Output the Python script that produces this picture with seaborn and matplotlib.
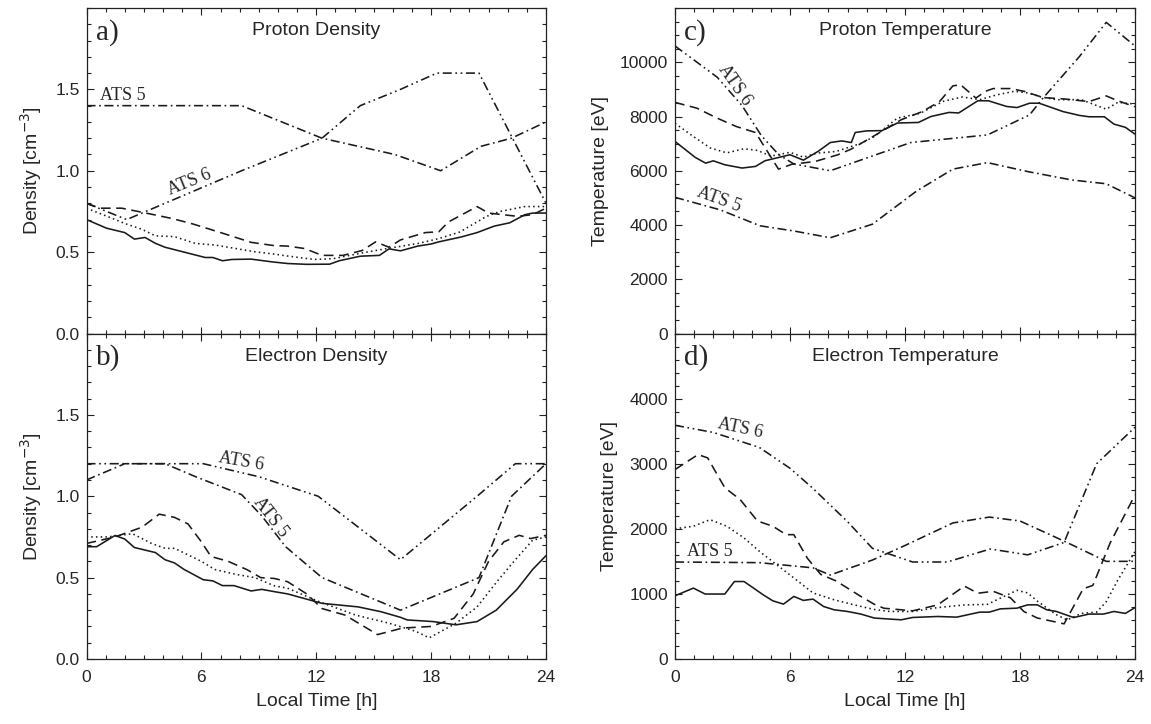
import numpy as np
import pandas as pd
import matplotlib
matplotlib.use("Agg")
import matplotlib.pyplot as plt
from matplotlib.ticker import MultipleLocator, FormatStrFormatter, FixedLocator
import seaborn as sns

# ---------------- data ----------------
hours_ticks = [0, 6, 12, 18, 24]

# a) Proton density
a_solid_x = [0, 1.05, 2.0, 2.5, 3.06, 3.6, 4.1, 5.1, 6.2, 6.6, 7.1, 7.6, 8.6, 9.7, 10.5, 11.5, 12.7, 13.2, 14.3, 15.3, 15.8, 16.4, 17.3, 18.0, 18.4, 19.6, 20.4, 21.3, 22.1, 22.9, 23.3, 24]
a_solid_y = [0.70, 0.647, 0.62, 0.58, 0.59, 0.554, 0.53, 0.50, 0.467, 0.467, 0.447, 0.455, 0.457, 0.44, 0.43, 0.425, 0.426, 0.447, 0.475, 0.48, 0.52, 0.508, 0.537, 0.55, 0.563, 0.594, 0.62, 0.66, 0.68, 0.73, 0.74, 0.74]
a_dash_x = [0, 0.7, 1.84, 2.9, 4.45, 5.5, 6.9, 8.6, 9.8, 10.5, 11.4, 12.3, 13.4, 14.4, 15.1, 15.8, 16.4, 17.7, 18.4, 18.9, 20.4, 21.0, 22.5, 23.3, 24]
a_dash_y = [0.80, 0.77, 0.77, 0.745, 0.707, 0.675, 0.624, 0.56, 0.54, 0.537, 0.522, 0.48, 0.48, 0.51, 0.563, 0.53, 0.575, 0.62, 0.625, 0.685, 0.78, 0.74, 0.72, 0.73, 0.77]
a_dot_x = [0, 1.14, 2.0, 2.9, 3.6, 4.6, 5.7, 6.7, 7.8, 8.8, 9.8, 10.5, 11.9, 12.9, 14.4, 15.6, 17.3, 18.4, 19.5, 20.9, 21.6, 22.9, 24]
a_dot_y = [0.77, 0.717, 0.676, 0.64, 0.60, 0.595, 0.553, 0.544, 0.522, 0.502, 0.488, 0.476, 0.455, 0.46, 0.495, 0.52, 0.553, 0.583, 0.624, 0.72, 0.75, 0.78, 0.78]
a_ats5_x = [0, 8.1, 12.3, 16.1, 18.5, 20.6, 22.2, 24]
a_ats5_y = [1.40, 1.40, 1.20, 1.10, 1.00, 1.15, 1.20, 1.30]
a_ats6_x = [0, 2.1, 8.1, 12.3, 14.3, 16.4, 18.3, 20.5, 24]
a_ats6_y = [0.80, 0.70, 1.00, 1.20, 1.40, 1.50, 1.60, 1.60, 0.80]

# b) Electron density
b_solid_x = [0, 0.53, 1.49, 2.0, 2.5, 3.6, 4.1, 4.6, 5.1, 6.1, 6.6, 7.1, 7.7, 8.6, 9.15, 9.8, 10.5, 12.3, 14.2, 15.4, 16.4, 16.75, 18.1, 19.3, 20.4, 21.4, 22.5, 23.3, 24]
b_solid_y = [0.69, 0.69, 0.759, 0.737, 0.685, 0.654, 0.61, 0.59, 0.55, 0.487, 0.48, 0.451, 0.451, 0.418, 0.428, 0.414, 0.40, 0.342, 0.32, 0.29, 0.256, 0.24, 0.23, 0.21, 0.23, 0.30, 0.43, 0.55, 0.635]
b_dash_x = [0, 1.49, 2.9, 3.8, 4.6, 5.3, 6.0, 6.5, 7.4, 8.4, 9.1, 9.8, 10.5, 11.5, 12.3, 13.5, 15.2, 16.5, 18.0, 19.2, 20.2, 21.0, 21.8, 22.6, 23.2, 24]
b_dash_y = [0.71, 0.75, 0.81, 0.89, 0.87, 0.83, 0.72, 0.63, 0.60, 0.548, 0.50, 0.495, 0.475, 0.40, 0.31, 0.27, 0.15, 0.19, 0.20, 0.25, 0.40, 0.60, 0.72, 0.76, 0.74, 0.76]
b_dot_x = [0, 1.1, 2.4, 3.4, 4.1, 4.6, 5.3, 6.0, 6.7, 7.8, 8.8, 9.8, 10.5, 12.1, 14.05, 15.8, 17.2, 17.9, 19.3, 20.4, 21.4, 22.4, 23.3, 24]
b_dot_y = [0.75, 0.75, 0.77, 0.71, 0.68, 0.68, 0.64, 0.60, 0.55, 0.52, 0.50, 0.45, 0.435, 0.355, 0.27, 0.22, 0.17, 0.13, 0.22, 0.32, 0.47, 0.61, 0.73, 0.75]
b_ats5_x = [0, 2.0, 4.1, 5.7, 8.1, 9.15, 10.4, 12.3, 16.4, 20.5, 22.2, 24]
b_ats5_y = [1.10, 1.20, 1.20, 1.12, 1.01, 0.88, 0.69, 0.50, 0.30, 0.50, 1.00, 1.20]
b_ats6_x = [0, 6.1, 9.0, 12.1, 16.4, 20.4, 22.4, 24]
b_ats6_y = [1.20, 1.20, 1.12, 1.00, 0.61, 1.00, 1.20, 1.20]

# c) Proton temperature
c_solid_x = [0, 1.06, 1.6, 2.0, 2.6, 3.5, 4.2, 4.7, 6.0, 6.7, 7.5, 8.1, 8.7, 9.2, 9.4, 10.0, 10.8, 11.6, 12.7, 13.35, 14.3, 14.8, 15.8, 16.35, 17.3, 17.85, 18.5, 19.0, 20.25, 21.1, 21.6, 22.4, 22.9, 23.5, 24]
c_solid_y = [7080, 6490, 6280, 6366, 6220, 6100, 6160, 6370, 6590, 6390, 6730, 7040, 7100, 7040, 7410, 7470, 7480, 7760, 7780, 8000, 8150, 8130, 8580, 8580, 8370, 8330, 8490, 8490, 8180, 8040, 7990, 7990, 7720, 7600, 7350]
c_dash_x = [0, 1.13, 2.2, 3.2, 4.2, 5.4, 6.1, 7.3, 8.5, 9.2, 10.3, 11.8, 12.9, 13.8, 14.5, 14.9, 15.7, 16.2, 16.6, 17.5, 18.2, 19.2, 20.4, 21.6, 22.5, 23.1, 24]
c_dash_y = [8520, 8310, 7940, 7630, 7410, 6060, 6240, 6340, 6590, 6800, 7250, 7880, 8180, 8550, 9130, 9170, 8680, 8930, 9030, 9030, 8930, 8700, 8640, 8550, 8760, 8580, 8360]
c_dot_x = [0, 0.96, 1.84, 2.7, 3.6, 4.3, 5.0, 6.0, 6.7, 7.4, 8.4, 9.7, 10.4, 11.6, 12.8, 14.0, 15.0, 15.9, 16.8, 17.7, 18.4, 19.1, 19.9, 21.2, 22.5, 23.1, 24]
c_dot_y = [7750, 7260, 6840, 6660, 6810, 6750, 6540, 6680, 6500, 6650, 6710, 7010, 7260, 7940, 8120, 8560, 8720, 8620, 8800, 8930, 8870, 8720, 8620, 8620, 8270, 8520, 8460]
c_ats5_x = [0, 2.35, 4.44, 6.2, 8.1, 10.3, 12.6, 14.5, 16.3, 18.4, 20.7, 22.5, 24]
c_ats5_y = [5020, 4560, 3970, 3780, 3530, 4030, 5250, 6060, 6300, 5970, 5660, 5520, 5000]
c_ats6_x = [0, 2.2, 3.5, 4.5, 5.4, 6.2, 8.1, 10.2, 12.3, 16.3, 18.5, 19.2, 21.1, 22.5, 24]
c_ats6_y = [10600, 9450, 8400, 7300, 6600, 6250, 6000, 6520, 7040, 7320, 8060, 8680, 10210, 11470, 10600]

# d) Electron temperature
d_solid_x = [0, 0.96, 1.57, 2.6, 3.1, 3.6, 4.1, 4.6, 5.1, 5.66, 6.2, 6.7, 7.2, 7.75, 8.3, 9.0, 9.7, 10.4, 11.8, 12.4, 13.7, 14.7, 15.9, 16.4, 16.97, 17.84, 18.4, 18.9, 19.4, 19.9, 20.8, 21.6, 22.35, 22.9, 23.5, 24]
d_solid_y = [971, 1089, 998, 998, 1190, 1190, 1089, 986, 894, 843, 961, 900, 920, 807, 756, 730, 690, 629, 602, 638, 653, 643, 720, 720, 770, 781, 832, 832, 755, 730, 637, 690, 690, 730, 700, 790]
d_dash_x = [0, 1.2, 1.7, 2.6, 3.4, 4.3, 5.1, 5.8, 6.2, 6.9, 7.6, 8.4, 9.7, 10.4, 10.9, 12.4, 13.7, 15.1, 15.8, 16.6, 17.5, 18.2, 18.9, 20.3, 21.3, 21.8, 22.7, 24]
d_dash_y = [2910, 3140, 3090, 2630, 2450, 2120, 2040, 1910, 1910, 1550, 1300, 1200, 960, 840, 780, 740, 830, 1120, 1010, 1040, 940, 730, 630, 540, 1080, 1130, 1780, 2520]
d_dot_x = [0, 0.96, 1.83, 2.7, 3.6, 4.4, 5.3, 6.2, 7.2, 8.3, 9.3, 10.4, 11.2, 12.4, 13.7, 15.1, 16.3, 16.8, 17.84, 18.4, 18.9, 19.9, 20.45, 21.2, 22.0, 22.5, 23.1, 24]
d_dot_y = [2000, 2040, 2140, 2040, 1860, 1655, 1450, 1245, 1015, 910, 835, 760, 730, 730, 790, 830, 840, 910, 1055, 1015, 890, 680, 600, 700, 720, 880, 1210, 1650]
d_ats5_x = [0, 4.4, 7.2, 8.1, 10.3, 11.9, 14.5, 16.4, 18.0, 20.45, 22.5, 24]
d_ats5_y = [1490, 1480, 1400, 1290, 1520, 1730, 2090, 2180, 2120, 1790, 1500, 1500]
d_ats6_x = [0, 2.0, 4.4, 6.0, 7.2, 9.0, 10.3, 12.4, 14.2, 16.45, 18.4, 20.3, 22.0, 24]
d_ats6_y = [3590, 3480, 3250, 2930, 2620, 2110, 1700, 1490, 1490, 1690, 1600, 1790, 3000, 3560]

titles = ["Proton Density", "Electron Density", "Proton Temperature", "Electron Temperature"]
letters = ["a)", "b)", "c)", "d)"]
ylabels = ["Density [cm$^{-3}$]", "Density [cm$^{-3}$]", "Temperature [eV]", "Temperature [eV]"]
xlabel = "Local Time [h]"

# ---------------- style ----------------
sns.set_theme(style="ticks")
plt.rcParams["font.family"] = ["Liberation Sans", "DejaVu Sans"]
plt.rcParams["lines.scale_dashes"] = False
plt.rcParams["xtick.direction"] = "in"
plt.rcParams["ytick.direction"] = "in"
plt.rcParams["xtick.top"] = True
plt.rcParams["ytick.right"] = True

INK = "#1a1a1a"
TXT = "#262626"
styles = {
    "solid": "-",
    "dash": (0, (7.0, 4.0)),
    "dot": (0, (1.1, 2.3)),
    "ats5": (0, (6.5, 2.6, 1.2, 2.6)),
    "ats6": (0, (6.5, 2.6, 1.2, 2.6, 1.2, 2.6)),
}

fig = plt.figure(figsize=(11.51, 7.24), dpi=100)
W, H = 1151, 724
def rect(x0, x1, ytop, ybot):
    return [x0 / W, 1 - ybot / H, (x1 - x0) / W, (ybot - ytop) / H]

ax_a = fig.add_axes(rect(86.5, 546, 8, 333.5))
ax_b = fig.add_axes(rect(86.5, 546, 333.5, 659))
ax_c = fig.add_axes(rect(675, 1135, 8, 333.5))
ax_d = fig.add_axes(rect(675, 1135, 333.5, 659))

panels = [
    (ax_a, [(a_solid_x, a_solid_y, "solid"), (a_dash_x, a_dash_y, "dash"), (a_dot_x, a_dot_y, "dot"),
            (a_ats5_x, a_ats5_y, "ats5"), (a_ats6_x, a_ats6_y, "ats6")], (0, 2.0), 0.5, 0.1, "%.1f"),
    (ax_b, [(b_solid_x, b_solid_y, "solid"), (b_dash_x, b_dash_y, "dash"), (b_dot_x, b_dot_y, "dot"),
            (b_ats5_x, b_ats5_y, "ats5"), (b_ats6_x, b_ats6_y, "ats6")], (0, 2.0), 0.5, 0.1, "%.1f"),
    (ax_c, [(c_solid_x, c_solid_y, "solid"), (c_dash_x, c_dash_y, "dash"), (c_dot_x, c_dot_y, "dot"),
            (c_ats5_x, c_ats5_y, "ats5"), (c_ats6_x, c_ats6_y, "ats6")], (0, 12000), 2000, 500, "%d"),
    (ax_d, [(d_solid_x, d_solid_y, "solid"), (d_dash_x, d_dash_y, "dash"), (d_dot_x, d_dot_y, "dot"),
            (d_ats5_x, d_ats5_y, "ats5"), (d_ats6_x, d_ats6_y, "ats6")], (0, 5000), 1000, 200, "%d"),
]

for i, (ax, series, ylim, major, minor, fmt) in enumerate(panels):
    for xs, ys, st in series:
        df = pd.DataFrame({"t": xs, "v": ys})
        sns.lineplot(data=df, x="t", y="v", ax=ax, color=INK, linestyle=styles[st],
                     linewidth=1.15, estimator=None, sort=False, errorbar=None)
    ax.set_xlim(0, 24)
    ax.set_ylim(*ylim)
    ax.xaxis.set_major_locator(FixedLocator(hours_ticks))
    ax.xaxis.set_minor_locator(MultipleLocator(1))
    ymaj = np.arange(ylim[0], ylim[1] * 0.96, major)
    ax.yaxis.set_major_locator(FixedLocator(ymaj))
    ax.yaxis.set_minor_locator(MultipleLocator(minor))
    ax.yaxis.set_major_formatter(FormatStrFormatter(fmt))
    ax.tick_params(which="major", length=5, width=0.8, color="#222222", labelsize=12.5, labelcolor=TXT, pad=5)
    ax.tick_params(which="minor", length=3, width=0.8, color="#222222")
    ax.tick_params(axis="x", pad=8)
    for s in ax.spines.values():
        s.set_linewidth(0.9)
        s.set_color("#222222")
    ax.set_ylabel(ylabels[i], fontsize=14, color=TXT, labelpad=8)
    ax.text(0.5, 0.93, titles[i], transform=ax.transAxes, ha="center", va="center",
            fontsize=14, color=TXT)
    ax.text(0.02, 0.925, letters[i], transform=ax.transAxes, ha="left", va="center",
            fontsize=21, color=TXT, family=["Liberation Serif", "DejaVu Serif"])
    if i in (0, 2):
        ax.set_xlabel("")
        ax.tick_params(axis="x", labelbottom=False)
    else:
        ax.set_xlabel(xlabel, fontsize=14, color=TXT, labelpad=6)

ser = ["Liberation Serif", "DejaVu Serif"]
def lab(ax, x, y, s, rot):
    ax.text(x, y, s, ha="center", va="center", rotation=rot, rotation_mode="anchor",
            fontsize=13, color=TXT, family=ser)

lab(ax_a, 1.9, 1.46, "ATS 5", 0)
lab(ax_a, 5.4, 0.93, "ATS 6", 22)
lab(ax_b, 8.1, 1.215, "ATS 6", -10)
lab(ax_b, 9.6, 0.87, "ATS 5", -52)
lab(ax_c, 3.1, 9150, "ATS 6", -55)
lab(ax_c, 2.3, 4950, "ATS 5", -20)
lab(ax_d, 3.4, 3540, "ATS 6", -12)
lab(ax_d, 1.8, 1650, "ATS 5", 0)

fig.savefig("out.png", dpi=100)
